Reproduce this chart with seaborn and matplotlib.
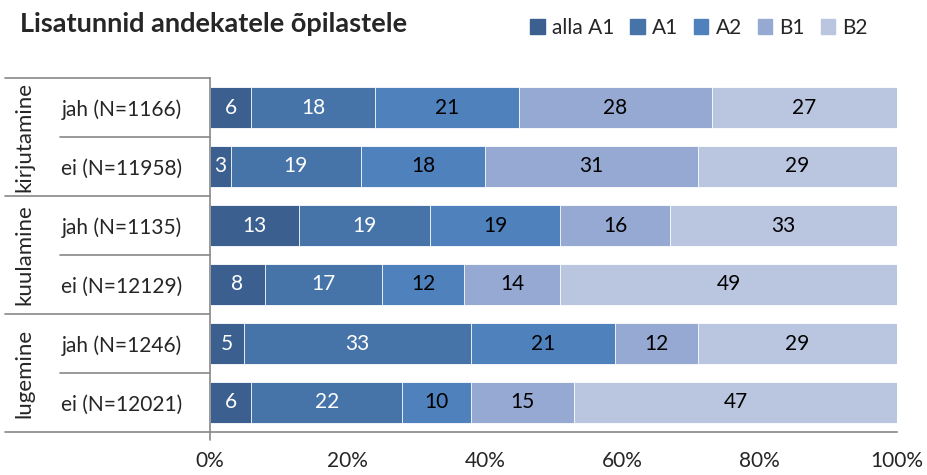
import matplotlib.pyplot as plt
import matplotlib.transforms as mtransforms
import numpy as np
import pandas as pd
import seaborn as sns

# Data
rows = ["jah (N=1166)", "ei (N=11958)", "jah (N=1135)", "ei (N=12129)", "jah (N=1246)", "ei (N=12021)"]
groups = ["kirjutamine", "kuulamine", "lugemine"]
levels = ["alla A1", "A1", "A2", "B1", "B2"]
alla_a1 = [6, 3, 13, 8, 5, 6]
a1 = [18, 19, 19, 17, 33, 22]
a2 = [21, 18, 19, 12, 21, 10]
b1 = [28, 31, 16, 14, 12, 15]
b2 = [27, 29, 33, 49, 29, 47]

colors = ["#3b5f8f", "#4673a8", "#4f81bd", "#95a9d2", "#bac6e0"]
text_colors = ["white", "white", "black", "black", "black"]

sns.set_style("white")
plt.rcParams["font.family"] = ["Lato", "DejaVu Sans"]
FS = 15

df = pd.DataFrame({"row": rows, "alla A1": alla_a1, "A1": a1, "A2": a2, "B1": b1, "B2": b2})
cum = df[levels].cumsum(axis=1)

fig = plt.figure(figsize=(9.27, 4.75), dpi=100)
ax = fig.add_axes([210 / 927, 1 - 432 / 475, 687 / 927, 354 / 475])

# stacked bars: draw cumulative totals from the largest down
for i in range(len(levels) - 1, -1, -1):
    sns.barplot(x=cum[levels[i]], y=df["row"], order=rows, color=colors[i], saturation=1,
                width=0.71, edgecolor="white", linewidth=0.6, ax=ax)

# segment labels
for i, lev in enumerate(levels):
    for j in range(len(rows)):
        val = df[lev][j]
        ax.text(cum[lev][j] - val / 2, j, str(val), ha="center", va="center",
                fontsize=FS, color=text_colors[i])

ax.set_xlim(0, 100)
ax.set_ylim(5.5, -0.5)
ax.set_xticks(np.arange(0, 101, 20))
ax.set_xticklabels([f"{t}%" for t in range(0, 101, 20)], fontsize=FS)
ax.set_xlabel("")
ax.set_ylabel("")
ax.tick_params(axis="x", direction="out", length=7, color="#888888", pad=7)
ax.tick_params(axis="y", length=0, pad=20, labelsize=FS)
for side in ["top", "right"]:
    ax.spines[side].set_visible(False)
for side in ["left", "bottom"]:
    ax.spines[side].set_color("#888888")
    ax.spines[side].set_linewidth(1.2)

# group separators and group labels on the left
trans = mtransforms.blended_transform_factory(ax.transAxes, ax.transData)
for yb in [-0.5, 1.5, 3.5, 5.5]:
    ax.plot([-0.298, 0], [yb, yb], color="#888888", lw=1.2, transform=trans, clip_on=False)
for yb in [0.5, 2.5, 4.5]:
    ax.plot([-0.218, 0], [yb, yb], color="#888888", lw=1.2, transform=trans, clip_on=False)
for k, g in enumerate(groups):
    ax.text(-0.27, 2 * k + 0.5, g, rotation=90, ha="center", va="center",
            fontsize=16, transform=trans)
ax.plot([0, 0], [5.5, 5.63], color="#888888", lw=1.2, transform=trans, clip_on=False)

fig.text(20 / 927, 1 - 24 / 475, "Lisatunnid andekatele õpilastele", fontsize=19.5,
         fontweight="bold", va="center", ha="left")

handles = [plt.Rectangle((0, 0), 1, 1, color=c) for c in colors]
fig.legend(handles, levels, loc="center", bbox_to_anchor=(699 / 927, 1 - 28 / 475),
           ncol=5, frameon=False, fontsize=FS, handlelength=0.7, handleheight=0.7,
           handletextpad=0.35, columnspacing=0.75)

fig.savefig("out.png", dpi=100)
